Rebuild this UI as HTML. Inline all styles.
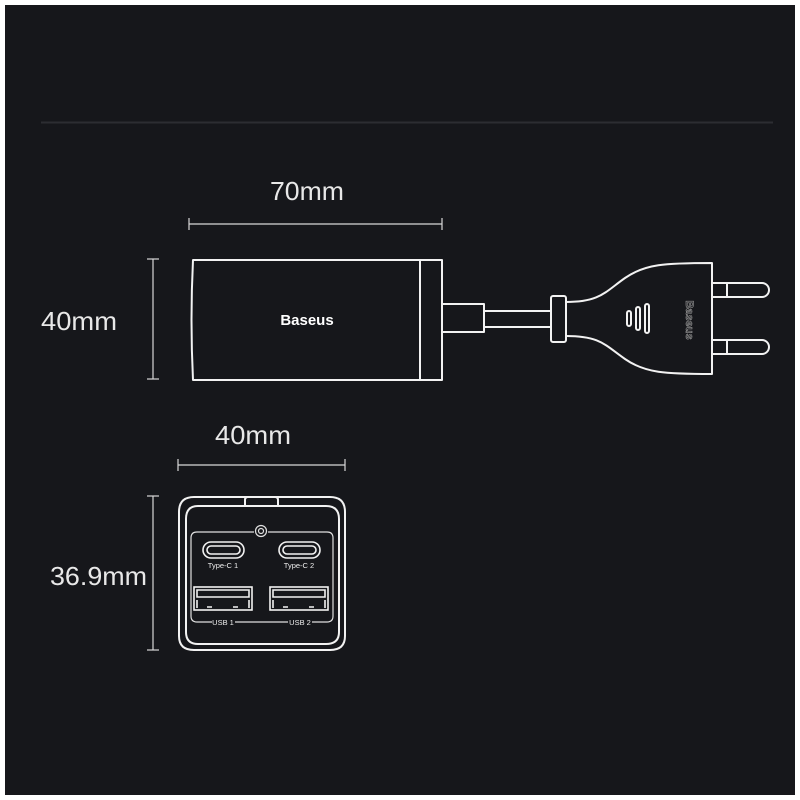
<!DOCTYPE html>
<html><head><meta charset="utf-8"><style>
html,body{margin:0;padding:0;background:#fff;}
svg{display:block}
</style></head><body>
<svg width="800" height="800" viewBox="0 0 800 800" xmlns="http://www.w3.org/2000/svg">
<rect x="0" y="0" width="800" height="800" fill="#fff"/>
<rect x="5" y="5" width="790" height="790" fill="#16171b"/>
<line x1="41" y1="122.5" x2="773" y2="122.5" stroke="#2c2d32" stroke-width="2"/>

<g font-family="Liberation Sans, sans-serif" fill="#e8e8e8" font-size="26">
<text x="270" y="200" textLength="74" lengthAdjust="spacingAndGlyphs">70mm</text>
<text x="41" y="330" textLength="76" lengthAdjust="spacingAndGlyphs">40mm</text>
<text x="215" y="444" textLength="76" lengthAdjust="spacingAndGlyphs">40mm</text>
<text x="50" y="585" textLength="97" lengthAdjust="spacingAndGlyphs">36.9mm</text>
</g>

<g stroke="#d8d8d8" stroke-width="1.2" fill="none">
<line x1="189" y1="224" x2="442" y2="224"/><line x1="189" y1="218" x2="189" y2="230"/><line x1="442" y1="218" x2="442" y2="230"/>
<line x1="153" y1="259" x2="153" y2="379"/><line x1="147" y1="259" x2="159" y2="259"/><line x1="147" y1="379" x2="159" y2="379"/>
<line x1="178" y1="465" x2="345" y2="465"/><line x1="178" y1="459" x2="178" y2="471"/><line x1="345" y1="459" x2="345" y2="471"/>
<line x1="153" y1="496" x2="153" y2="650"/><line x1="147" y1="496" x2="159" y2="496"/><line x1="147" y1="650" x2="159" y2="650"/>
</g>

<g stroke="#f2f2f2" stroke-width="2" fill="none" stroke-linejoin="round">
<path d="M193 260 H442 V380 H193 Q190 320 193 260 Z"/>
<line x1="420" y1="260" x2="420" y2="380"/>
<rect x="442" y="304" width="42" height="28"/>
<line x1="484" y1="311" x2="551" y2="311"/><line x1="484" y1="327" x2="551" y2="327"/>
<rect x="551" y="296" width="15" height="46" rx="2"/>
<path d="M566 302 C600 302 605 292 625 278 C645 264 665 263 712 263 V374 C665 374 645 373 625 359 C605 345 600 336 566 336"/>
<path d="M712 283 H762 A7 7 0 0 1 762 297 H712"/><line x1="727" y1="283" x2="727" y2="297"/>
<path d="M712 340 H762 A7 7 0 0 1 762 354 H712"/><line x1="727" y1="340" x2="727" y2="354"/>
<rect x="627" y="311" width="4" height="15" rx="2"/>
<rect x="636" y="307" width="4" height="23" rx="2"/>
<rect x="645" y="304" width="4" height="29" rx="2"/>
</g>
<text x="307" y="325" text-anchor="middle" font-family="Liberation Sans, sans-serif" font-weight="bold" font-size="15" fill="#fff">Baseus</text>
<text transform="translate(686,320) rotate(90)" text-anchor="middle" font-family="Liberation Sans, sans-serif" font-weight="bold" font-size="11" fill="none" stroke="#999" stroke-width="0.6">Baseus</text>

<g stroke="#f2f2f2" stroke-width="2" fill="none">
<path d="M194 497 H330 Q345 497 345 512 V636 Q345 650 330 650 H194 Q179 650 179 636 V512 Q179 497 194 497 Z"/>
<path d="M245 505 V500 Q245 497 248 497 H275 Q278 497 278 500 V505"/>
<path d="M198 506 H326 Q339 506 339 519 V632 Q339 644 326 644 H198 Q186 644 186 632 V519 Q186 506 198 506 Z"/>
</g>
<g stroke="#e0e0e0" stroke-width="1.2" fill="none">
<path d="M254 532 H197 Q191 532 191 538 V616 Q191 622 197 622 H212"/>
<path d="M268 532 H327 Q333 532 333 538 V616 Q333 622 327 622 H312"/>
<line x1="235" y1="622" x2="288" y2="622"/>
<circle cx="261" cy="531" r="5.5"/><circle cx="261" cy="531" r="2.5"/>
</g>
<g stroke="#f2f2f2" stroke-width="1.6" fill="none">
<rect x="203" y="542" width="41" height="16" rx="8"/><rect x="207" y="546" width="33" height="8" rx="4"/>
<rect x="279" y="542" width="41" height="16" rx="8"/><rect x="283" y="546" width="33" height="8" rx="4"/>
<rect x="194" y="587" width="58" height="23"/><path d="M197 590 H249 V597 H197 Z"/>
<path d="M197 600 V608 M249 600 V608 M207 607 H212 M233 607 H238"/>
<rect x="270" y="587" width="58" height="23"/><path d="M273 590 H325 V597 H273 Z"/>
<path d="M273 600 V608 M325 600 V608 M283 607 H288 M309 607 H314"/>
</g>
<g font-family="Liberation Sans, sans-serif" font-size="7.5" fill="#eee" text-anchor="middle">
<text x="223" y="568">Type-C 1</text><text x="299" y="568">Type-C 2</text>
<text x="223" y="625">USB 1</text><text x="300" y="625">USB 2</text>
</g>
</svg>
</body></html>
